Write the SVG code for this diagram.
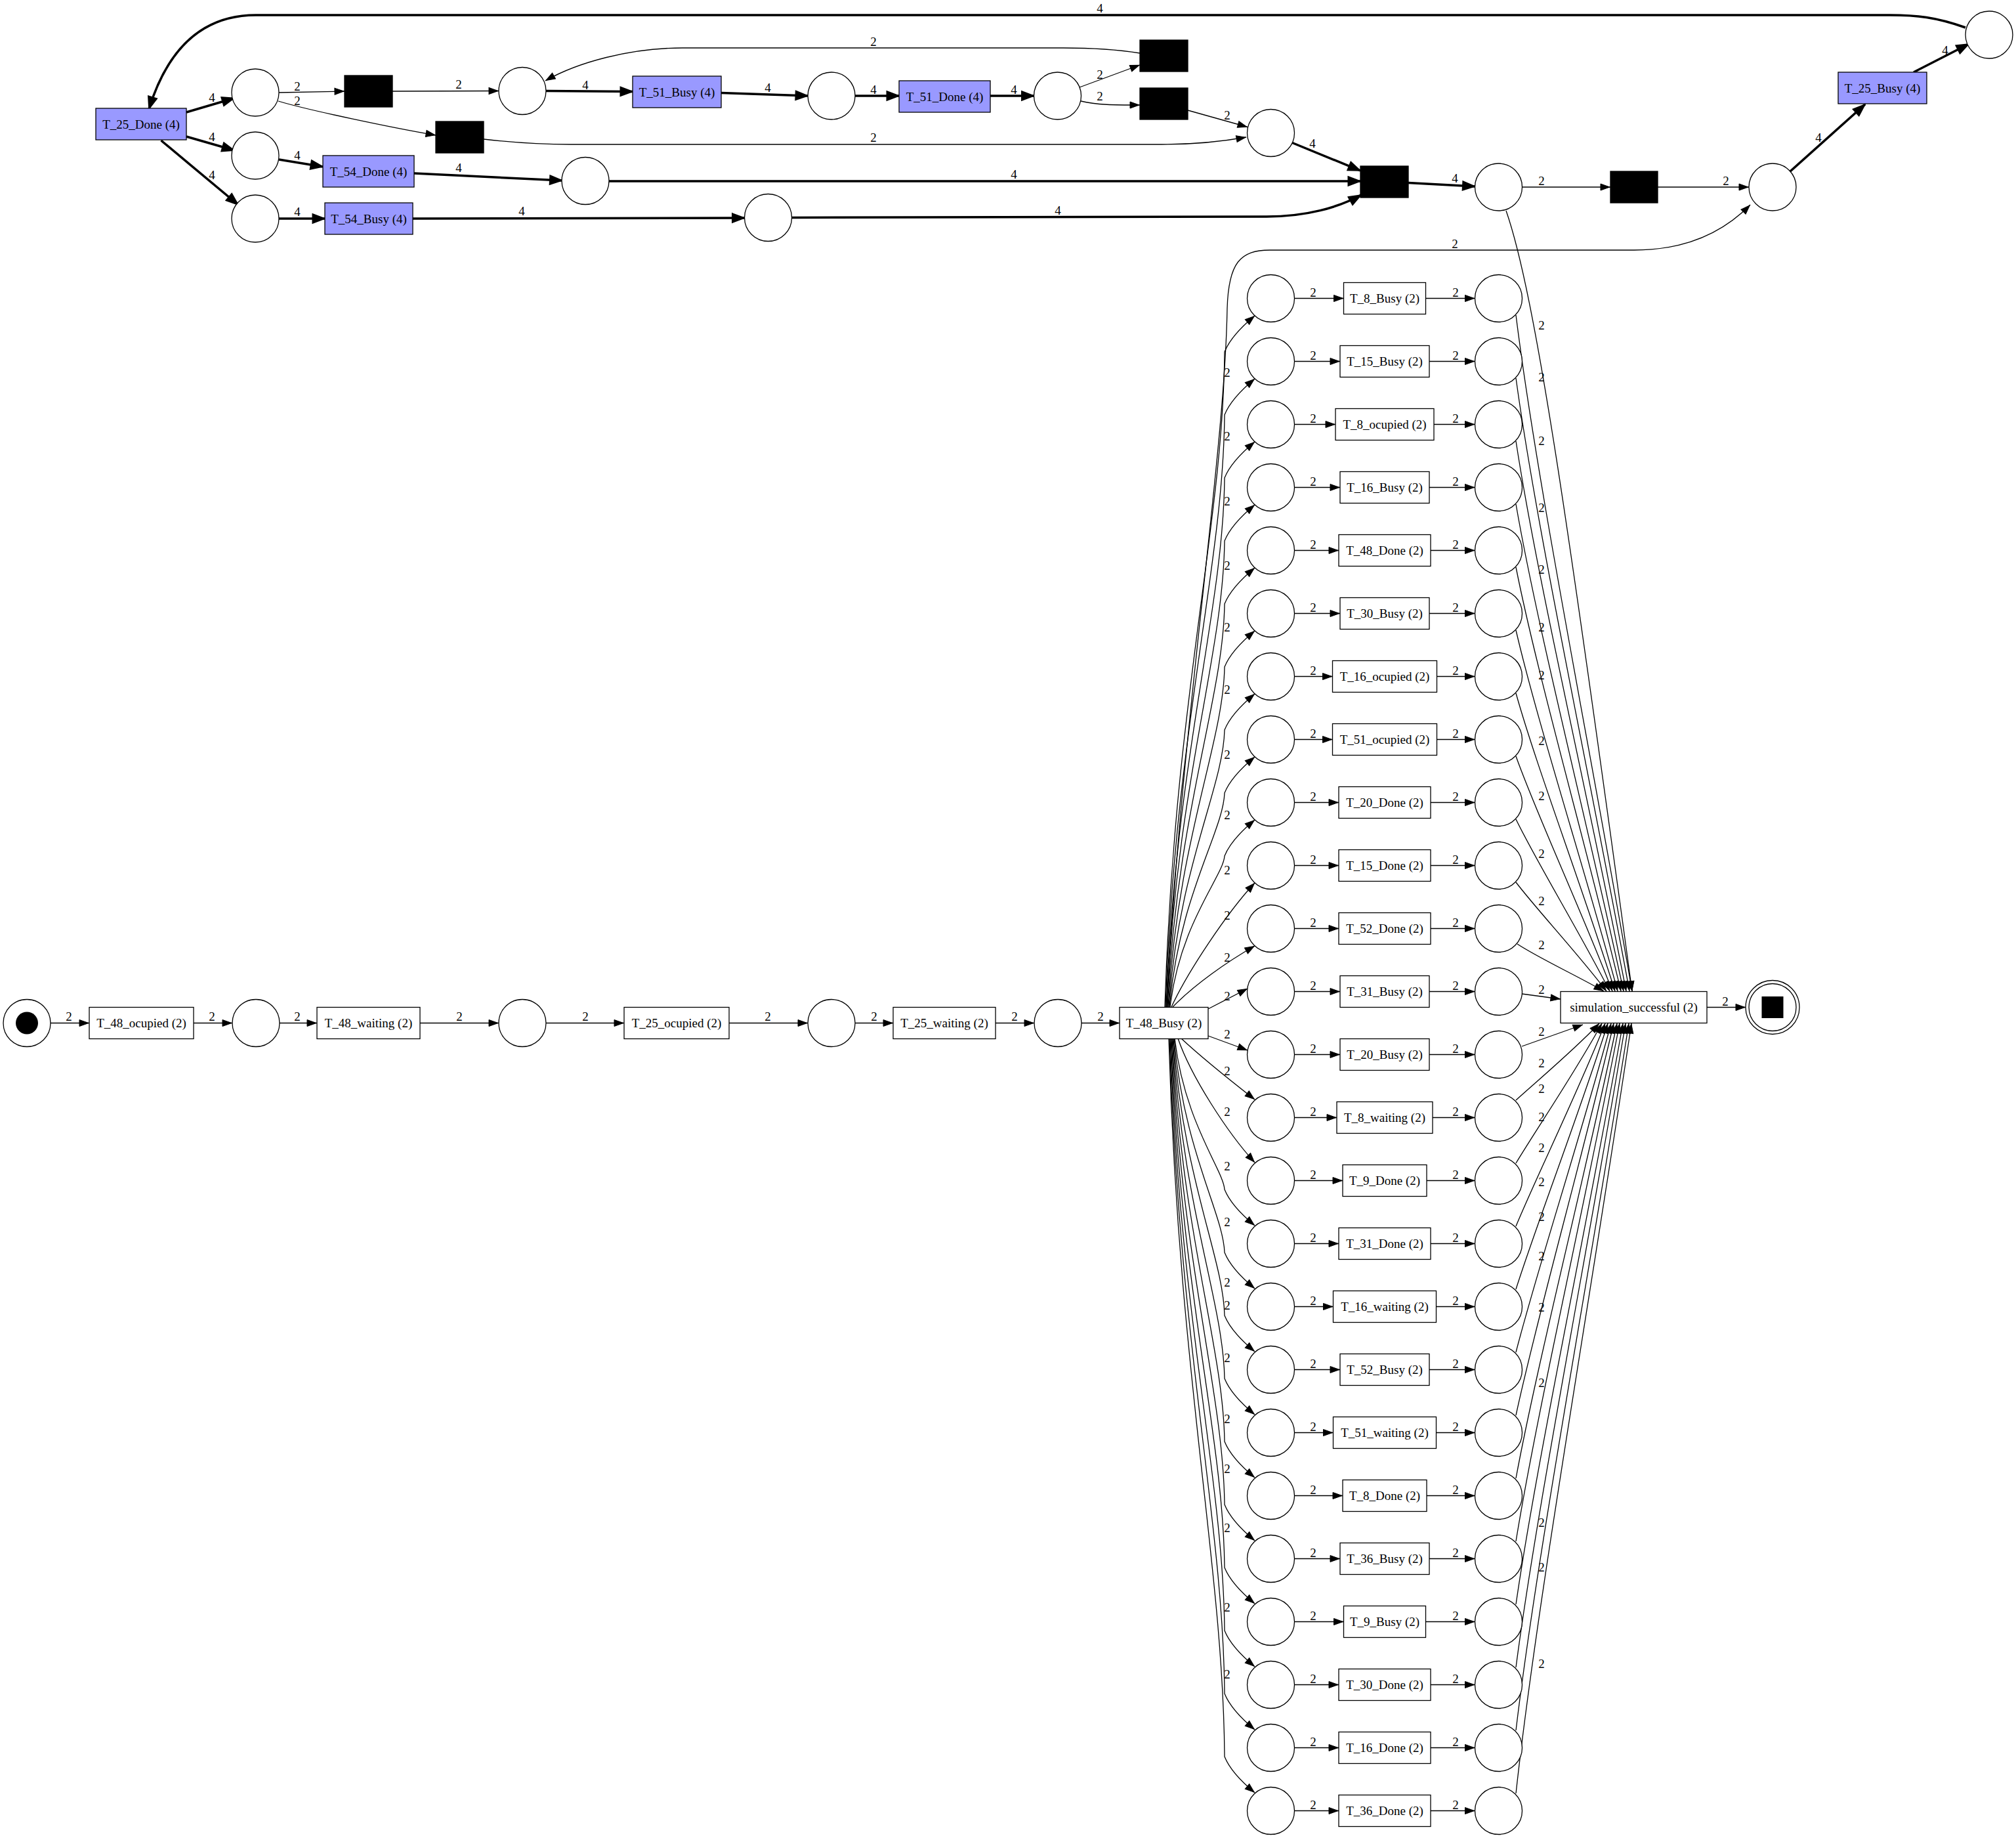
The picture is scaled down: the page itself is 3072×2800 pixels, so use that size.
<svg xmlns="http://www.w3.org/2000/svg" width="3072" height="2800" viewBox="0 0 3072 2800">
<defs>
<style>
.p{fill:#fff;stroke:#000;stroke-width:1.3}
.w{fill:#fff;stroke:#000;stroke-width:1.3}
.c{fill:#9999ff;stroke:#000;stroke-width:1.3}
.b{fill:#000;stroke:#000;stroke-width:1.3}
text{font-family:"Liberation Serif","Times New Roman",serif;font-size:19px;text-anchor:middle;fill:#000}
.e{fill:none;stroke:#000;stroke-width:1.3;marker-end:url(#a)}
.k{fill:none;stroke:#000;stroke-width:3.5;marker-end:url(#b)}
</style>
<marker id="a" markerUnits="userSpaceOnUse" markerWidth="20" markerHeight="20" refX="15" refY="5" orient="auto" overflow="visible"><path d="M0,0L14,5L0,10z" fill="#000" stroke="#000" stroke-width="1"/></marker>
<marker id="b" markerUnits="userSpaceOnUse" markerWidth="30" markerHeight="30" refX="18" refY="6" orient="auto" overflow="visible"><path d="M0,0L16,6L0,12z" fill="#000" stroke="#000" stroke-width="3"/></marker>
</defs>
<rect width="3072" height="2800" fill="#fff"/>

<g id="connectors">
<path class="k" d="M2995,42C2950,26 2920,23 2880,23L390,23C320,23 260,60 227,166"/><text x="1676" y="18.5">4</text>
<path class="k" d="M284,171L357,149.5"/><text x="323" y="155">4</text>
<path class="k" d="M284,208L357,229"/><text x="323" y="215">4</text>
<path class="k" d="M245.5,214L363,312"/><text x="323" y="273">4</text>
<path class="e" d="M425,141L525,139"/><text x="453" y="137.5">2</text>
<path class="e" d="M424,154C470,168 600,195 664,206"/><text x="453" y="160">2</text>
<path class="e" d="M598,139L760,138.5"/><text x="699" y="135">2</text>
<path class="k" d="M832,138.5L964,139.5"/><text x="892" y="136">4</text>
<path class="k" d="M425,243L492,254"/><text x="453" y="242.5">4</text>
<path class="k" d="M631,264L856.5,275"/><text x="699" y="262">4</text>
<path class="k" d="M425,333L495,333"/><text x="453" y="329">4</text>
<path class="k" d="M629,333L1134.5,332"/><text x="795" y="327.5">4</text>
<path class="e" d="M1737,81C1700,75 1660,73 1620,73L1040,73C960,73 880,95 831,123"/><text x="1331" y="70">2</text>
<path class="k" d="M1099,141.5L1231,146"/><text x="1170" y="140">4</text>
<path class="k" d="M1303,146L1370,146"/><text x="1331" y="142.5">4</text>
<path class="k" d="M1509,146L1575.5,146"/><text x="1545" y="142.5">4</text>
<path class="e" d="M1645,133L1737,99"/><text x="1676" y="120">2</text>
<path class="e" d="M1647,154C1670,160 1700,160 1737,160"/><text x="1676" y="153">2</text>
<path class="e" d="M1810,168L1901,193.5"/><text x="1870" y="181.5">2</text>
<path class="e" d="M737,212C780,217 820,220 870,220L1770,220C1820,220 1860,216 1899,209"/><text x="1331" y="216">2</text>
<path class="k" d="M1968,217L2073,260"/><text x="2000" y="225">4</text>
<path class="k" d="M927,276L2073,276"/><text x="1545" y="271.5">4</text>
<path class="k" d="M1207,331.5L1930,330C1990,330 2040,316 2074,297"/><text x="1612" y="326.5">4</text>
<path class="k" d="M2146,278.5L2247.5,284"/><text x="2217" y="278">4</text>
<path class="e" d="M2319.5,285L2454,285"/><text x="2349" y="282">2</text>
<path class="e" d="M2526,285L2665,285"/><text x="2630" y="282">2</text>
<path class="k" d="M2728,261L2842,159"/><text x="2771" y="216">4</text>
<path class="k" d="M2916,110L3000,67"/><text x="2964" y="82.5">4</text>
<path class="e" d="M1778,1534C1800,1100 1866,700 1870,470C1872,400 1890,381 1935,381L2490,381C2560,381 2620,360 2667,312"/><text x="2217" y="377.5">2</text>
<path class="e" d="M2295,321C2340,450 2390,800 2487,1510"/><text x="2349" y="501.5">2</text>
<path class="e" d="M2601,1534.5L2660,1534.5"/><text x="2629" y="1531.5">2</text>

<path class="e" d="M77,1558.5H136"/><text x="105" y="1555">2</text>
<path class="e" d="M295,1558.5H354"/><text x="323" y="1555">2</text>
<path class="e" d="M426,1558.5H483"/><text x="453" y="1555">2</text>
<path class="e" d="M640,1558.5H760"/><text x="700" y="1555">2</text>
<path class="e" d="M832,1558.5H951"/><text x="892" y="1555">2</text>
<path class="e" d="M1111,1558.5H1231"/><text x="1170" y="1555">2</text>
<path class="e" d="M1303,1558.5H1361"/><text x="1332" y="1555">2</text>
<path class="e" d="M1517,1558.5H1576"/><text x="1546" y="1555">2</text>
<path class="e" d="M1648,1558.5H1706"/><text x="1677" y="1555">2</text>

<path class="e" d="M1775,1534C1790,1060 1864,797 1866,536Q1876,511 1912,481"/>
<path class="e" d="M1776,1534C1791,1104 1864,864 1866,632Q1876,607 1912,577"/>
<path class="e" d="M1777,1534C1792,1147 1864,932 1866,728Q1876,703 1912,673"/>
<path class="e" d="M1778,1534C1793,1190 1864,999 1866,824Q1876,799 1912,769"/>
<path class="e" d="M1779,1534C1794,1233 1864,1066 1866,920Q1876,895 1912,865"/>
<path class="e" d="M1780,1534C1795,1276 1864,1133 1866,1016Q1876,991 1912,961"/>
<path class="e" d="M1781,1534C1796,1320 1864,1200 1866,1112Q1876,1087 1912,1057"/>
<path class="e" d="M1782,1534C1797,1363 1864,1267 1866,1208Q1876,1183 1912,1153"/>
<path class="e" d="M1783,1534C1798,1406 1864,1335 1866,1304Q1876,1279 1912,1249"/>
<path class="e" d="M1785,1534C1810,1480 1870,1390 1912,1345"/>
<path class="e" d="M1787,1534C1820,1500 1870,1465 1912,1441"/>
<path class="e" d="M1841,1537L1901,1506"/>
<path class="e" d="M1841,1578L1901,1600"/>
<path class="e" d="M1800,1582C1830,1610 1880,1650 1912,1675"/>
<path class="e" d="M1795,1582C1815,1640 1870,1725 1912,1771"/>
<path class="e" d="M1790,1582C1805,1710 1864,1782 1866,1812Q1876,1837 1912,1867"/>
<path class="e" d="M1789,1582C1804,1754 1864,1849 1866,1908Q1876,1933 1912,1963"/>
<path class="e" d="M1788,1582C1803,1797 1864,1916 1866,2004Q1876,2029 1912,2059"/>
<path class="e" d="M1787,1582C1802,1840 1864,1983 1866,2100Q1876,2125 1912,2155"/>
<path class="e" d="M1786,1582C1801,1883 1864,2051 1866,2196Q1876,2221 1912,2251"/>
<path class="e" d="M1785,1582C1800,1926 1864,2118 1866,2292Q1876,2317 1912,2347"/>
<path class="e" d="M1784,1582C1799,1970 1864,2185 1866,2388Q1876,2413 1912,2443"/>
<path class="e" d="M1783,1582C1798,2013 1864,2252 1866,2484Q1876,2509 1912,2539"/>
<path class="e" d="M1782,1582C1797,2056 1864,2319 1866,2580Q1876,2605 1912,2635"/>
<path class="e" d="M1781,1582C1796,2099 1864,2387 1866,2676Q1876,2701 1912,2731"/>
<g>
<text x="1870" y="573.5">2</text><text x="1870" y="670.5">2</text><text x="1870" y="769.5">2</text><text x="1870" y="867.5">2</text><text x="1870" y="961.5">2</text><text x="1870" y="1056.5">2</text><text x="1870" y="1155.5">2</text><text x="1870" y="1247.5">2</text><text x="1870" y="1331.5">2</text><text x="1870" y="1400.5">2</text><text x="1870" y="1464.5">2</text><text x="1870" y="1523.5">2</text>
<text x="1870" y="1581.5">2</text><text x="1870" y="1637.5">2</text><text x="1870" y="1699.5">2</text><text x="1870" y="1782.5">2</text><text x="1870" y="1867.5">2</text><text x="1870" y="1959.5">2</text><text x="1870" y="1994.5">2</text><text x="1870" y="2074.5">2</text><text x="1870" y="2167.5">2</text><text x="1870" y="2243.5">2</text><text x="1870" y="2333.5">2</text><text x="1870" y="2454.5">2</text><text x="1870" y="2556.5">2</text>
</g>

<path class="e" d="M2310,480C2342,738 2425,1150 2487,1510"/>
<path class="e" d="M2310,576C2342,810 2423,1183 2483,1510"/>
<path class="e" d="M2310,672C2342,882 2421,1217 2478,1510"/>
<path class="e" d="M2310,768C2342,954 2418,1250 2474,1510"/>
<path class="e" d="M2310,864C2342,1026 2416,1284 2470,1510"/>
<path class="e" d="M2310,960C2342,1098 2413,1318 2465,1510"/>
<path class="e" d="M2310,1056C2342,1170 2411,1351 2461,1510"/>
<path class="e" d="M2310,1152C2342,1242 2409,1385 2457,1510"/>
<path class="e" d="M2310,1248C2342,1314 2406,1418 2453,1510"/>
<path class="e" d="M2310,1344C2342,1386 2404,1452 2448,1510"/>
<path class="e" d="M2312,1438C2342,1458 2402,1486 2444,1510"/>
<path class="e" d="M2319,1514L2378,1522"/>
<path class="e" d="M2319,1594L2412,1561"/>
<path class="e" d="M2310,1676C2342,1647 2398,1600 2437,1559"/>
<path class="e" d="M2310,1772C2342,1719 2400,1634 2441,1559"/>
<path class="e" d="M2310,1868C2342,1791 2403,1667 2446,1559"/>
<path class="e" d="M2310,1964C2342,1863 2405,1701 2450,1559"/>
<path class="e" d="M2310,2060C2342,1935 2408,1734 2455,1559"/>
<path class="e" d="M2310,2156C2342,2007 2410,1768 2459,1559"/>
<path class="e" d="M2310,2252C2342,2079 2413,1802 2464,1559"/>
<path class="e" d="M2310,2348C2342,2151 2415,1835 2468,1559"/>
<path class="e" d="M2310,2444C2342,2223 2418,1869 2473,1559"/>
<path class="e" d="M2310,2540C2342,2295 2420,1902 2477,1559"/>
<path class="e" d="M2310,2636C2342,2367 2423,1936 2482,1559"/>
<path class="e" d="M2310,2732C2342,2439 2425,1970 2486,1559"/>
<g>
<text x="2349" y="580.5">2</text><text x="2349" y="677.5">2</text><text x="2349" y="779.5">2</text><text x="2349" y="873.5">2</text><text x="2349" y="961.5">2</text><text x="2349" y="1034.5">2</text><text x="2349" y="1134.5">2</text><text x="2349" y="1218.5">2</text><text x="2349" y="1306.5">2</text><text x="2349" y="1378.5">2</text><text x="2349" y="1445.5">2</text><text x="2349" y="1513.5">2</text>
<text x="2349" y="1577.5">2</text><text x="2349" y="1625.5">2</text><text x="2349" y="1664.5">2</text><text x="2349" y="1707.5">2</text><text x="2349" y="1754.5">2</text><text x="2349" y="1806.5">2</text><text x="2349" y="1859.5">2</text><text x="2349" y="1919.5">2</text><text x="2349" y="1997.5">2</text><text x="2349" y="2112.5">2</text><text x="2349" y="2325.5">2</text><text x="2349" y="2393.5">2</text><text x="2349" y="2540.5">2</text>
</g>

<g transform="translate(0,454.5)"><path class="e" d="M1972.5,0H2047.5"/><path class="e" d="M2172.5,0H2247.5"/><text x="2001" y="-3">2</text><text x="2218" y="-3">2</text></g>
<g transform="translate(0,550.5)"><path class="e" d="M1972.5,0H2042"/><path class="e" d="M2178,0H2247.5"/><text x="2001" y="-3">2</text><text x="2218" y="-3">2</text></g>
<g transform="translate(0,646.5)"><path class="e" d="M1972.5,0H2035"/><path class="e" d="M2185,0H2247.5"/><text x="2001" y="-3">2</text><text x="2218" y="-3">2</text></g>
<g transform="translate(0,742.5)"><path class="e" d="M1972.5,0H2042"/><path class="e" d="M2178,0H2247.5"/><text x="2001" y="-3">2</text><text x="2218" y="-3">2</text></g>
<g transform="translate(0,838.5)"><path class="e" d="M1972.5,0H2040"/><path class="e" d="M2180,0H2247.5"/><text x="2001" y="-3">2</text><text x="2218" y="-3">2</text></g>
<g transform="translate(0,934.5)"><path class="e" d="M1972.5,0H2042"/><path class="e" d="M2178,0H2247.5"/><text x="2001" y="-3">2</text><text x="2218" y="-3">2</text></g>
<g transform="translate(0,1030.5)"><path class="e" d="M1972.5,0H2030.5"/><path class="e" d="M2189.5,0H2247.5"/><text x="2001" y="-3">2</text><text x="2218" y="-3">2</text></g>
<g transform="translate(0,1126.5)"><path class="e" d="M1972.5,0H2030.5"/><path class="e" d="M2189.5,0H2247.5"/><text x="2001" y="-3">2</text><text x="2218" y="-3">2</text></g>
<g transform="translate(0,1222.5)"><path class="e" d="M1972.5,0H2040"/><path class="e" d="M2180,0H2247.5"/><text x="2001" y="-3">2</text><text x="2218" y="-3">2</text></g>
<g transform="translate(0,1318.5)"><path class="e" d="M1972.5,0H2040"/><path class="e" d="M2180,0H2247.5"/><text x="2001" y="-3">2</text><text x="2218" y="-3">2</text></g>
<g transform="translate(0,1414.5)"><path class="e" d="M1972.5,0H2040"/><path class="e" d="M2180,0H2247.5"/><text x="2001" y="-3">2</text><text x="2218" y="-3">2</text></g>
<g transform="translate(0,1510.5)"><path class="e" d="M1972.5,0H2042"/><path class="e" d="M2178,0H2247.5"/><text x="2001" y="-3">2</text><text x="2218" y="-3">2</text></g>
<g transform="translate(0,1606.5)"><path class="e" d="M1972.5,0H2042"/><path class="e" d="M2178,0H2247.5"/><text x="2001" y="-3">2</text><text x="2218" y="-3">2</text></g>
<g transform="translate(0,1702.5)"><path class="e" d="M1972.5,0H2037"/><path class="e" d="M2183,0H2247.5"/><text x="2001" y="-3">2</text><text x="2218" y="-3">2</text></g>
<g transform="translate(0,1798.5)"><path class="e" d="M1972.5,0H2046"/><path class="e" d="M2174,0H2247.5"/><text x="2001" y="-3">2</text><text x="2218" y="-3">2</text></g>
<g transform="translate(0,1894.5)"><path class="e" d="M1972.5,0H2040"/><path class="e" d="M2180,0H2247.5"/><text x="2001" y="-3">2</text><text x="2218" y="-3">2</text></g>
<g transform="translate(0,1990.5)"><path class="e" d="M1972.5,0H2031.5"/><path class="e" d="M2188.5,0H2247.5"/><text x="2001" y="-3">2</text><text x="2218" y="-3">2</text></g>
<g transform="translate(0,2086.5)"><path class="e" d="M1972.5,0H2042"/><path class="e" d="M2178,0H2247.5"/><text x="2001" y="-3">2</text><text x="2218" y="-3">2</text></g>
<g transform="translate(0,2182.5)"><path class="e" d="M1972.5,0H2031.5"/><path class="e" d="M2188.5,0H2247.5"/><text x="2001" y="-3">2</text><text x="2218" y="-3">2</text></g>
<g transform="translate(0,2278.5)"><path class="e" d="M1972.5,0H2046"/><path class="e" d="M2174,0H2247.5"/><text x="2001" y="-3">2</text><text x="2218" y="-3">2</text></g>
<g transform="translate(0,2374.5)"><path class="e" d="M1972.5,0H2042"/><path class="e" d="M2178,0H2247.5"/><text x="2001" y="-3">2</text><text x="2218" y="-3">2</text></g>
<g transform="translate(0,2470.5)"><path class="e" d="M1972.5,0H2047.5"/><path class="e" d="M2172.5,0H2247.5"/><text x="2001" y="-3">2</text><text x="2218" y="-3">2</text></g>
<g transform="translate(0,2566.5)"><path class="e" d="M1972.5,0H2040"/><path class="e" d="M2180,0H2247.5"/><text x="2001" y="-3">2</text><text x="2218" y="-3">2</text></g>
<g transform="translate(0,2662.5)"><path class="e" d="M1972.5,0H2040"/><path class="e" d="M2180,0H2247.5"/><text x="2001" y="-3">2</text><text x="2218" y="-3">2</text></g>
<g transform="translate(0,2758.5)"><path class="e" d="M1972.5,0H2040"/><path class="e" d="M2180,0H2247.5"/><text x="2001" y="-3">2</text><text x="2218" y="-3">2</text></g>
</g>

<g id="nodes">
<g id="T_25_Done"><rect class="c" x="146" y="165" width="138" height="48"/><text x="215" y="195.5">T_25_Done (4)</text></g>
<g id="pA"><circle class="p" cx="389" cy="141" r="36"/></g>
<g id="pB"><circle class="p" cx="389" cy="237" r="36"/></g>
<g id="pC"><circle class="p" cx="389" cy="333" r="36"/></g>
<g id="t1"><rect class="b" x="525" y="115" width="73" height="48"/></g>
<g id="t2"><rect class="b" x="664" y="185" width="73" height="48"/></g>
<g id="T_54_Done"><rect class="c" x="492" y="237" width="139" height="48"/><text x="561.5" y="267.5">T_54_Done (4)</text></g>
<g id="T_54_Busy"><rect class="c" x="495" y="309" width="134" height="48"/><text x="562" y="339.5">T_54_Busy (4)</text></g>
<g id="pD"><circle class="p" cx="796" cy="138.5" r="36"/></g>
<g id="pE"><circle class="p" cx="892" cy="275.5" r="36"/></g>
<g id="pF"><circle class="p" cx="1170.5" cy="331.5" r="36"/></g>
<g id="T_51_Busy"><rect class="c" x="964" y="116" width="135" height="48"/><text x="1031.5" y="146.5">T_51_Busy (4)</text></g>
<g id="pG"><circle class="p" cx="1267" cy="146" r="36"/></g>
<g id="T_51_Done"><rect class="c" x="1370" y="123" width="139" height="48"/><text x="1439.5" y="153.5">T_51_Done (4)</text></g>
<g id="pH"><circle class="p" cx="1611.5" cy="146" r="36"/></g>
<g id="t3"><rect class="b" x="1737" y="61" width="73" height="48"/></g>
<g id="t4"><rect class="b" x="1737" y="134" width="73" height="48"/></g>
<g id="pI"><circle class="p" cx="1936.5" cy="202.5" r="36"/></g>
<g id="t5"><rect class="b" x="2073" y="253" width="73" height="48"/></g>
<g id="pK"><circle class="p" cx="2283.5" cy="285" r="36"/></g>
<g id="t6"><rect class="b" x="2454" y="261" width="72" height="48"/></g>
<g id="pJ"><circle class="p" cx="2701" cy="285" r="36"/></g>
<g id="T_25_Busy"><rect class="c" x="2801" y="110" width="135" height="48"/><text x="2868.5" y="140.5">T_25_Busy (4)</text></g>
<g id="pL"><circle class="p" cx="3031" cy="53" r="36"/></g>

<g id="start"><circle class="p" cx="41" cy="1558.5" r="36"/><circle cx="41" cy="1558.5" r="17" fill="#000"/></g>
<g id="T_48_ocupied"><rect class="w" x="136" y="1534.5" width="159" height="48"/><text x="215.5" y="1565">T_48_ocupied (2)</text></g>
<g id="p2"><circle class="p" cx="390" cy="1558.5" r="36"/></g>
<g id="T_48_waiting"><rect class="w" x="483" y="1534.5" width="157" height="48"/><text x="561.5" y="1565">T_48_waiting (2)</text></g>
<g id="p3"><circle class="p" cx="796" cy="1558.5" r="36"/></g>
<g id="T_25_ocupied"><rect class="w" x="951" y="1534.5" width="160" height="48"/><text x="1031" y="1565">T_25_ocupied (2)</text></g>
<g id="p4"><circle class="p" cx="1267" cy="1558.5" r="36"/></g>
<g id="T_25_waiting"><rect class="w" x="1361" y="1534.5" width="156" height="48"/><text x="1439" y="1565">T_25_waiting (2)</text></g>
<g id="p5"><circle class="p" cx="1612" cy="1558.5" r="36"/></g>
<g id="T_48_Busy"><rect class="w" x="1706" y="1534.5" width="135" height="48"/><text x="1773.5" y="1565">T_48_Busy (2)</text></g>
<g id="simulation_successful"><rect class="w" x="2378" y="1510.5" width="223" height="48"/><text x="2489.5" y="1541">simulation_successful (2)</text></g>
<g id="end"><circle class="p" cx="2701" cy="1534.5" r="41"/><circle class="p" cx="2701" cy="1534.5" r="36"/><rect x="2684.5" y="1518" width="33" height="33" fill="#000"/></g>

<g id="pl0" transform="translate(1936.5,454.5)"><circle class="p" r="36"/></g>
<g id="pl1" transform="translate(1936.5,550.5)"><circle class="p" r="36"/></g>
<g id="pl2" transform="translate(1936.5,646.5)"><circle class="p" r="36"/></g>
<g id="pl3" transform="translate(1936.5,742.5)"><circle class="p" r="36"/></g>
<g id="pl4" transform="translate(1936.5,838.5)"><circle class="p" r="36"/></g>
<g id="pl5" transform="translate(1936.5,934.5)"><circle class="p" r="36"/></g>
<g id="pl6" transform="translate(1936.5,1030.5)"><circle class="p" r="36"/></g>
<g id="pl7" transform="translate(1936.5,1126.5)"><circle class="p" r="36"/></g>
<g id="pl8" transform="translate(1936.5,1222.5)"><circle class="p" r="36"/></g>
<g id="pl9" transform="translate(1936.5,1318.5)"><circle class="p" r="36"/></g>
<g id="pl10" transform="translate(1936.5,1414.5)"><circle class="p" r="36"/></g>
<g id="pl11" transform="translate(1936.5,1510.5)"><circle class="p" r="36"/></g>
<g id="pl12" transform="translate(1936.5,1606.5)"><circle class="p" r="36"/></g>
<g id="pl13" transform="translate(1936.5,1702.5)"><circle class="p" r="36"/></g>
<g id="pl14" transform="translate(1936.5,1798.5)"><circle class="p" r="36"/></g>
<g id="pl15" transform="translate(1936.5,1894.5)"><circle class="p" r="36"/></g>
<g id="pl16" transform="translate(1936.5,1990.5)"><circle class="p" r="36"/></g>
<g id="pl17" transform="translate(1936.5,2086.5)"><circle class="p" r="36"/></g>
<g id="pl18" transform="translate(1936.5,2182.5)"><circle class="p" r="36"/></g>
<g id="pl19" transform="translate(1936.5,2278.5)"><circle class="p" r="36"/></g>
<g id="pl20" transform="translate(1936.5,2374.5)"><circle class="p" r="36"/></g>
<g id="pl21" transform="translate(1936.5,2470.5)"><circle class="p" r="36"/></g>
<g id="pl22" transform="translate(1936.5,2566.5)"><circle class="p" r="36"/></g>
<g id="pl23" transform="translate(1936.5,2662.5)"><circle class="p" r="36"/></g>
<g id="pl24" transform="translate(1936.5,2758.5)"><circle class="p" r="36"/></g>

<g id="tr0" transform="translate(2110,454.5)"><rect class="w" x="-62.5" y="-24" width="125" height="48"/><text y="6.5">T_8_Busy (2)</text></g>
<g id="tr1" transform="translate(2110,550.5)"><rect class="w" x="-68" y="-24" width="136" height="48"/><text y="6.5">T_15_Busy (2)</text></g>
<g id="tr2" transform="translate(2110,646.5)"><rect class="w" x="-75" y="-24" width="150" height="48"/><text y="6.5">T_8_ocupied (2)</text></g>
<g id="tr3" transform="translate(2110,742.5)"><rect class="w" x="-68" y="-24" width="136" height="48"/><text y="6.5">T_16_Busy (2)</text></g>
<g id="tr4" transform="translate(2110,838.5)"><rect class="w" x="-70" y="-24" width="140" height="48"/><text y="6.5">T_48_Done (2)</text></g>
<g id="tr5" transform="translate(2110,934.5)"><rect class="w" x="-68" y="-24" width="136" height="48"/><text y="6.5">T_30_Busy (2)</text></g>
<g id="tr6" transform="translate(2110,1030.5)"><rect class="w" x="-79.5" y="-24" width="159" height="48"/><text y="6.5">T_16_ocupied (2)</text></g>
<g id="tr7" transform="translate(2110,1126.5)"><rect class="w" x="-79.5" y="-24" width="159" height="48"/><text y="6.5">T_51_ocupied (2)</text></g>
<g id="tr8" transform="translate(2110,1222.5)"><rect class="w" x="-70" y="-24" width="140" height="48"/><text y="6.5">T_20_Done (2)</text></g>
<g id="tr9" transform="translate(2110,1318.5)"><rect class="w" x="-70" y="-24" width="140" height="48"/><text y="6.5">T_15_Done (2)</text></g>
<g id="tr10" transform="translate(2110,1414.5)"><rect class="w" x="-70" y="-24" width="140" height="48"/><text y="6.5">T_52_Done (2)</text></g>
<g id="tr11" transform="translate(2110,1510.5)"><rect class="w" x="-68" y="-24" width="136" height="48"/><text y="6.5">T_31_Busy (2)</text></g>
<g id="tr12" transform="translate(2110,1606.5)"><rect class="w" x="-68" y="-24" width="136" height="48"/><text y="6.5">T_20_Busy (2)</text></g>
<g id="tr13" transform="translate(2110,1702.5)"><rect class="w" x="-73" y="-24" width="146" height="48"/><text y="6.5">T_8_waiting (2)</text></g>
<g id="tr14" transform="translate(2110,1798.5)"><rect class="w" x="-64" y="-24" width="128" height="48"/><text y="6.5">T_9_Done (2)</text></g>
<g id="tr15" transform="translate(2110,1894.5)"><rect class="w" x="-70" y="-24" width="140" height="48"/><text y="6.5">T_31_Done (2)</text></g>
<g id="tr16" transform="translate(2110,1990.5)"><rect class="w" x="-78.5" y="-24" width="157" height="48"/><text y="6.5">T_16_waiting (2)</text></g>
<g id="tr17" transform="translate(2110,2086.5)"><rect class="w" x="-68" y="-24" width="136" height="48"/><text y="6.5">T_52_Busy (2)</text></g>
<g id="tr18" transform="translate(2110,2182.5)"><rect class="w" x="-78.5" y="-24" width="157" height="48"/><text y="6.5">T_51_waiting (2)</text></g>
<g id="tr19" transform="translate(2110,2278.5)"><rect class="w" x="-64" y="-24" width="128" height="48"/><text y="6.5">T_8_Done (2)</text></g>
<g id="tr20" transform="translate(2110,2374.5)"><rect class="w" x="-68" y="-24" width="136" height="48"/><text y="6.5">T_36_Busy (2)</text></g>
<g id="tr21" transform="translate(2110,2470.5)"><rect class="w" x="-62.5" y="-24" width="125" height="48"/><text y="6.5">T_9_Busy (2)</text></g>
<g id="tr22" transform="translate(2110,2566.5)"><rect class="w" x="-70" y="-24" width="140" height="48"/><text y="6.5">T_30_Done (2)</text></g>
<g id="tr23" transform="translate(2110,2662.5)"><rect class="w" x="-70" y="-24" width="140" height="48"/><text y="6.5">T_16_Done (2)</text></g>
<g id="tr24" transform="translate(2110,2758.5)"><rect class="w" x="-70" y="-24" width="140" height="48"/><text y="6.5">T_36_Done (2)</text></g>

<g id="pr0" transform="translate(2283.5,454.5)"><circle class="p" r="36"/></g>
<g id="pr1" transform="translate(2283.5,550.5)"><circle class="p" r="36"/></g>
<g id="pr2" transform="translate(2283.5,646.5)"><circle class="p" r="36"/></g>
<g id="pr3" transform="translate(2283.5,742.5)"><circle class="p" r="36"/></g>
<g id="pr4" transform="translate(2283.5,838.5)"><circle class="p" r="36"/></g>
<g id="pr5" transform="translate(2283.5,934.5)"><circle class="p" r="36"/></g>
<g id="pr6" transform="translate(2283.5,1030.5)"><circle class="p" r="36"/></g>
<g id="pr7" transform="translate(2283.5,1126.5)"><circle class="p" r="36"/></g>
<g id="pr8" transform="translate(2283.5,1222.5)"><circle class="p" r="36"/></g>
<g id="pr9" transform="translate(2283.5,1318.5)"><circle class="p" r="36"/></g>
<g id="pr10" transform="translate(2283.5,1414.5)"><circle class="p" r="36"/></g>
<g id="pr11" transform="translate(2283.5,1510.5)"><circle class="p" r="36"/></g>
<g id="pr12" transform="translate(2283.5,1606.5)"><circle class="p" r="36"/></g>
<g id="pr13" transform="translate(2283.5,1702.5)"><circle class="p" r="36"/></g>
<g id="pr14" transform="translate(2283.5,1798.5)"><circle class="p" r="36"/></g>
<g id="pr15" transform="translate(2283.5,1894.5)"><circle class="p" r="36"/></g>
<g id="pr16" transform="translate(2283.5,1990.5)"><circle class="p" r="36"/></g>
<g id="pr17" transform="translate(2283.5,2086.5)"><circle class="p" r="36"/></g>
<g id="pr18" transform="translate(2283.5,2182.5)"><circle class="p" r="36"/></g>
<g id="pr19" transform="translate(2283.5,2278.5)"><circle class="p" r="36"/></g>
<g id="pr20" transform="translate(2283.5,2374.5)"><circle class="p" r="36"/></g>
<g id="pr21" transform="translate(2283.5,2470.5)"><circle class="p" r="36"/></g>
<g id="pr22" transform="translate(2283.5,2566.5)"><circle class="p" r="36"/></g>
<g id="pr23" transform="translate(2283.5,2662.5)"><circle class="p" r="36"/></g>
<g id="pr24" transform="translate(2283.5,2758.5)"><circle class="p" r="36"/></g>
</g>
</svg>
